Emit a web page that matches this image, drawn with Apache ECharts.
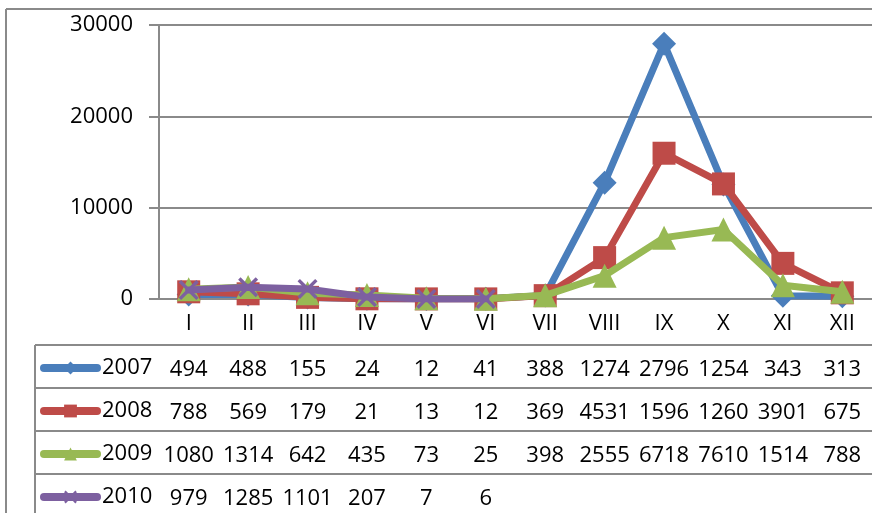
<!DOCTYPE html>
<html>
<head>
<meta charset="utf-8">
<script src="https://cdn.jsdelivr.net/npm/echarts@6/dist/echarts.min.js"></script>
<style>
  html, body { margin: 0; padding: 0; background: #fff; }
  #chart { width: 872px; height: 513px; }
</style>
</head>
<body>
<div id="chart"></div>
<script>
// months (roman numerals)
var months = ['I', 'II', 'III', 'IV', 'V', 'VI', 'VII', 'VIII', 'IX', 'X', 'XI', 'XII'];
var years = ['2007', '2008', '2009', '2010'];
// monthly values per year (2010 only up to VI)
var v2007 = [494, 488, 155, 24, 12, 41, 388, 12740, 27960, 12540, 343, 313];
var v2008 = [788, 569, 179, 21, 13, 12, 369, 4531, 15960, 12600, 3901, 675];
var v2009 = [1080, 1314, 642, 435, 73, 25, 398, 2555, 6718, 7610, 1514, 788];
var v2010 = [979, 1285, 1101, 207, 7, 6, null, null, null, null, null, null];
var yTicks = [0, 10000, 20000, 30000];

var colors = ['#4a7ebb', '#be4b48', '#98b954', '#7d60a0'];
var rows = [v2007, v2008, v2009, v2010];
var symbols = ['diamond', 'rect', 'triangle',
  'path://M0,1.2 L1.2,0 L5,3.8 L8.8,0 L10,1.2 L6.2,5 L10,8.8 L8.8,10 L5,6.2 L1.2,10 L0,8.8 L3.8,5 Z'];
var symbolSizes = [24, 23, 24, 20];

var font = '"Open Sans", "Liberation Sans", sans-serif';
var grey = '#8a8a8a';
var rowH = 43;

var myChart = echarts.init(document.getElementById('chart'));

// the data table under the plot: one extra x axis per year, pushed down
var xAxes = [{
  type: 'category',
  data: months,
  boundaryGap: true,
  axisLine: { lineStyle: { color: grey, width: 2 } },
  axisTick: { length: 46, lineStyle: { color: grey, width: 2 } },
  axisLabel: { color: '#000', fontSize: 22, fontFamily: font, margin: 14, lineHeight: 22 }
}];
rows.forEach(function (r, k) {
  xAxes.push({
    type: 'category',
    data: months,
    position: 'bottom',
    offset: 46 + k * rowH,
    boundaryGap: true,
    axisLine: { lineStyle: { color: grey, width: 2 } },
    axisTick: { length: rowH, lineStyle: { color: grey, width: 2 } },
    axisLabel: {
      interval: 0,
      color: '#000', fontSize: 22, fontFamily: font, margin: 14, lineHeight: 22,
      formatter: function (val, i) {
        // the narrow table cells only show the first 4 digits
        return r[i] == null ? '' : String(r[i]).slice(0, 4);
      }
    }
  });
});

// one legend per table row, so each key sits in its own row
var legends = years.map(function (y, k) {
  return {
    orient: 'vertical',
    left: 40,
    top: 357 + k * rowH,
    padding: 0,
    itemWidth: 53,
    itemHeight: 16,
    lineStyle: { width: 8, cap: 'round' },
    textStyle: { color: '#000', fontSize: 22, fontFamily: font, lineHeight: 22 },
    data: [y]
  };
});

var series = rows.map(function (r, k) {
  return {
    name: years[k],
    type: 'line',
    data: r,
    symbol: symbols[k],
    symbolSize: symbolSizes[k],
    lineStyle: { width: 7, color: colors[k], cap: 'round', join: 'round' },
    itemStyle: { color: colors[k] },
    z: 2 + k
  };
});

myChart.setOption({
  animation: false,
  textStyle: { fontFamily: font },
  grid: { left: 159, top: 25, width: 718, height: 274, containLabel: false },
  legend: legends,
  xAxis: xAxes,
  yAxis: {
    type: 'value',
    min: yTicks[0],
    max: yTicks[yTicks.length - 1],
    interval: 10000,
    axisLine: { show: true, lineStyle: { color: grey, width: 2 } },
    axisTick: { show: true, length: 10, lineStyle: { color: grey, width: 2 } },
    axisLabel: {
      color: '#000', fontSize: 22, fontFamily: font, margin: 26,
      formatter: function (v) { return String(v); }
    },
    splitLine: { lineStyle: { color: grey, width: 2 } }
  },
  graphic: [
    // outer chart frame
    { type: 'line', shape: { x1: 6, y1: 9, x2: 872, y2: 9 }, style: { stroke: grey, lineWidth: 2 } },
    { type: 'line', shape: { x1: 6, y1: 9, x2: 6, y2: 513 }, style: { stroke: grey, lineWidth: 2 } },
    // legend column of the data table
    { type: 'line', shape: { x1: 35, y1: 345, x2: 35, y2: 513 }, style: { stroke: grey, lineWidth: 2 } },
    { type: 'line', shape: { x1: 35, y1: 345, x2: 159, y2: 345 }, style: { stroke: grey, lineWidth: 2 } },
    { type: 'line', shape: { x1: 35, y1: 388, x2: 159, y2: 388 }, style: { stroke: grey, lineWidth: 2 } },
    { type: 'line', shape: { x1: 35, y1: 431, x2: 159, y2: 431 }, style: { stroke: grey, lineWidth: 2 } },
    { type: 'line', shape: { x1: 35, y1: 474, x2: 159, y2: 474 }, style: { stroke: grey, lineWidth: 2 } }
  ],
  series: series
});
</script>
</body>
</html>
